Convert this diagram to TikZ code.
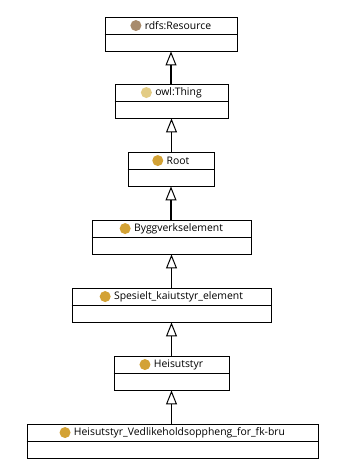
\documentclass[tikz,border=0pt]{standalone}
\usepackage{fontspec}
\setmainfont{Open Sans}
\usetikzlibrary{arrows.meta,positioning}
\definecolor{rescol}{HTML}{A88B6C}
\definecolor{thingcol}{HTML}{E3CC85}
\definecolor{classcol}{HTML}{D3A235}
\tikzset{
  cls/.style={draw=black, line width=0.9pt, minimum height=34pt, inner sep=0pt, fill=white},
  head/.style={inner sep=0pt, font=\fontsize{10.4pt}{12pt}\selectfont},
  dot/.style={circle, inner sep=0pt, minimum size=11pt},
  inh/.style={line width=1.5pt, -{Triangle[open, width=11pt, length=14pt, line width=1pt]}},
}
\newcommand{\divider}[1]{\draw[line width=0.8pt] ([yshift=-17.5pt]#1.north west) -- ([yshift=-17.5pt]#1.north east);}
\begin{document}
\begin{tikzpicture}[x=1pt,y=-1pt]
\useasboundingbox[fill=white] (0,0) rectangle (337,471);

% class boxes
\node[cls, minimum width=132pt] (c1) at (171,34) {};
\node[cls, minimum width=113pt] (c2) at (171.5,101) {};
\node[cls, minimum width=86pt]  (c3) at (171,169) {};
\node[cls, minimum width=159pt] (c4) at (171.5,237) {};
\node[cls, minimum width=199pt] (c5) at (171.5,305) {};
\node[cls, minimum width=115pt] (c6) at (171.5,373) {};
\node[cls, minimum width=291pt] (c7) at (172.5,441) {};
\divider{c1}\divider{c2}\divider{c3}\divider{c4}\divider{c5}\divider{c6}\divider{c7}

% headers: icon and class name
\node[head] (t1) at ([xshift=7pt,yshift=-9pt]c1.north) {rdfs:Resource};
\node[dot, fill=rescol, left=3pt of t1] (d1) {};
\node[head] (t2) at ([xshift=7pt,yshift=-9pt]c2.north) {owl:Thing};
\node[dot, fill=thingcol, left=3pt of t2] (d2) {};
\node[head] (t3) at ([xshift=7pt,yshift=-9pt]c3.north) {Root};
\node[dot, fill=classcol, left=3pt of t3] (d3) {};
\node[head] (t4) at ([xshift=7pt,yshift=-9pt]c4.north) {Byggverkselement};
\node[dot, fill=classcol, left=3pt of t4] (d4) {};
\node[head] (t5) at ([xshift=7pt,yshift=-9pt]c5.north) {Spesielt\_kaiutstyr\_element};
\node[dot, fill=classcol, left=3pt of t5] (d5) {};
\node[head] (t6) at ([xshift=7pt,yshift=-9pt]c6.north) {Heisutstyr};
\node[dot, fill=classcol, left=3pt of t6] (d6) {};
\node[head] (t7) at ([xshift=7pt,yshift=-9pt]c7.north) {Heisutstyr\_Vedlikeholdsoppheng\_for\_fk-bru};
\node[dot, fill=classcol, left=3pt of t7] (d7) {};

% subclass relations
\draw[inh] (c2.north -| c1.south) -- (c1.south);
\draw[inh] (c3.north -| c2.south) -- (c2.south);
\draw[inh] (c4.north -| c3.south) -- (c3.south);
\draw[inh] (c5.north -| c4.south) -- (c4.south);
\draw[inh] (c6.north -| c5.south) -- (c5.south);
\draw[inh] (c7.north -| c6.south) -- (c6.south);
\end{tikzpicture}
\end{document}
